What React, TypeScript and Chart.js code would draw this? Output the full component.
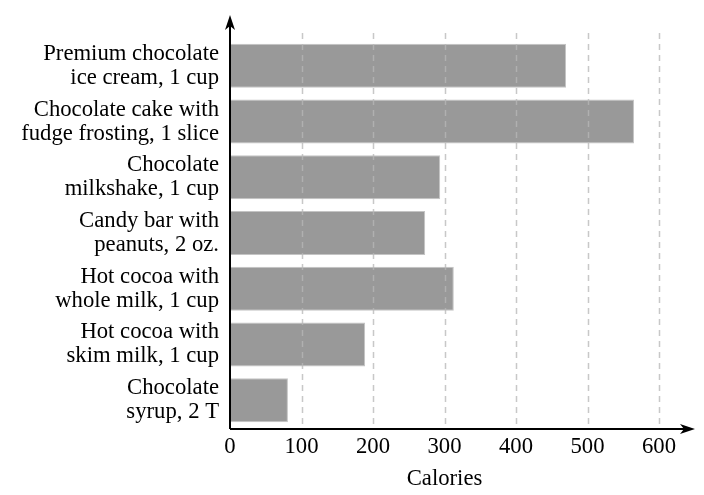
import React, { useEffect, useRef } from "react";
import { Chart, registerables } from "chart.js";

Chart.register(...registerables);

const categories: string[][] = [
  ["Premium chocolate", "ice cream, 1 cup"],
  ["Chocolate cake with", "fudge frosting, 1 slice"],
  ["Chocolate", "milkshake, 1 cup"],
  ["Candy bar with", "peanuts, 2 oz."],
  ["Hot cocoa with", "whole milk, 1 cup"],
  ["Hot cocoa with", "skim milk, 1 cup"],
  ["Chocolate", "syrup, 2 T"],
];
const calories: number[] = [470, 565, 294, 273, 313, 189, 81];
const xTicks: number[] = [0, 100, 200, 300, 400, 500, 600];
const gridValues: number[] = [100, 200, 300, 400, 500, 600];

const FONT = "'Liberation Serif', 'Times New Roman', serif";

const axesPlugin = {
  id: "axesArrows",
  afterDatasetsDraw(chart: any) {
    const { ctx, chartArea, scales } = chart;
    const xs = scales.x;
    ctx.save();
    // dashed gridlines drawn over bars
    ctx.strokeStyle = "rgba(183,183,183,0.77)";
    ctx.lineWidth = 1.5;
    ctx.setLineDash([6, 5]);
    for (const v of gridValues) {
      const px = Math.round(xs.getPixelForValue(v)) + 0.5;
      ctx.beginPath();
      ctx.moveTo(px, chartArea.top - 5);
      ctx.lineTo(px, chartArea.bottom);
      ctx.stroke();
    }
    ctx.setLineDash([]);
    // axes
    const x0 = chartArea.left;
    const y0 = chartArea.bottom + 1;
    const yTop = 15;
    const xEnd = 695;
    ctx.strokeStyle = "#000";
    ctx.fillStyle = "#000";
    ctx.lineWidth = 2;
    ctx.beginPath();
    ctx.moveTo(x0, y0);
    ctx.lineTo(x0, yTop + 8);
    ctx.moveTo(x0, y0);
    ctx.lineTo(xEnd - 8, y0);
    ctx.stroke();
    // y arrow head
    ctx.beginPath();
    ctx.moveTo(x0, yTop);
    ctx.lineTo(x0 + 5, yTop + 15);
    ctx.lineTo(x0, yTop + 11);
    ctx.lineTo(x0 - 5, yTop + 15);
    ctx.closePath();
    ctx.fill();
    // x arrow head
    ctx.beginPath();
    ctx.moveTo(xEnd, y0);
    ctx.lineTo(xEnd - 15, y0 - 5);
    ctx.lineTo(xEnd - 11, y0);
    ctx.lineTo(xEnd - 15, y0 + 5);
    ctx.closePath();
    ctx.fill();
    ctx.restore();
  },
};

export default function App() {
  const ref = useRef<HTMLCanvasElement | null>(null);
  useEffect(() => {
    if (!ref.current) return;
    const chart = new Chart(ref.current, {
      type: "bar",
      data: {
        labels: categories,
        datasets: [
          {
            data: calories,
            backgroundColor: "#999999",
            borderColor: "#c4c4c4",
            borderWidth: 1,
            barPercentage: 0.79,
            categoryPercentage: 1,
          },
        ],
      },
      options: {
        indexAxis: "y",
        animation: false,
        responsive: false,
        maintainAspectRatio: false,
        layout: { padding: { top: 38, right: 45, left: 0, bottom: 0 } },
        plugins: {
          legend: { display: false },
          tooltip: { enabled: false },
        },
        scales: {
          x: {
            type: "linear",
            min: 0,
            max: 600,
            afterBuildTicks: (scale: any) => {
              scale.ticks = xTicks.map((v) => ({ value: v }));
            },
            afterFit: (scale: any) => {
              scale.height = 67;
            },
            grid: { display: false, drawTicks: false },
            border: { display: false },
            ticks: {
              color: "#000",
              padding: 5,
              maxRotation: 0,
              font: { family: FONT, size: 22.7 },
            },
            title: {
              display: true,
              text: "Calories",
              color: "#000",
              padding: { top: 0, bottom: 2 },
              font: { family: FONT, size: 22.7 },
            },
          },
          y: {
            type: "category",
            afterFit: (scale: any) => {
              scale.width = 230;
            },
            grid: { display: false, drawTicks: false },
            border: { display: false },
            ticks: {
              color: "#000",
              padding: 11,
              autoSkip: false,
              font: { family: FONT, size: 22.7, lineHeight: 1.06 },
            },
          },
        },
      },
      plugins: [axesPlugin],
    });
    return () => chart.destroy();
  }, []);
  return (
    <div style={{ position: "fixed", left: 0, top: 0, width: 704, height: 495, background: "#fff" }}>
      <canvas ref={ref} width={704} height={495} style={{ width: 704, height: 495 }} />
    </div>
  );
}
